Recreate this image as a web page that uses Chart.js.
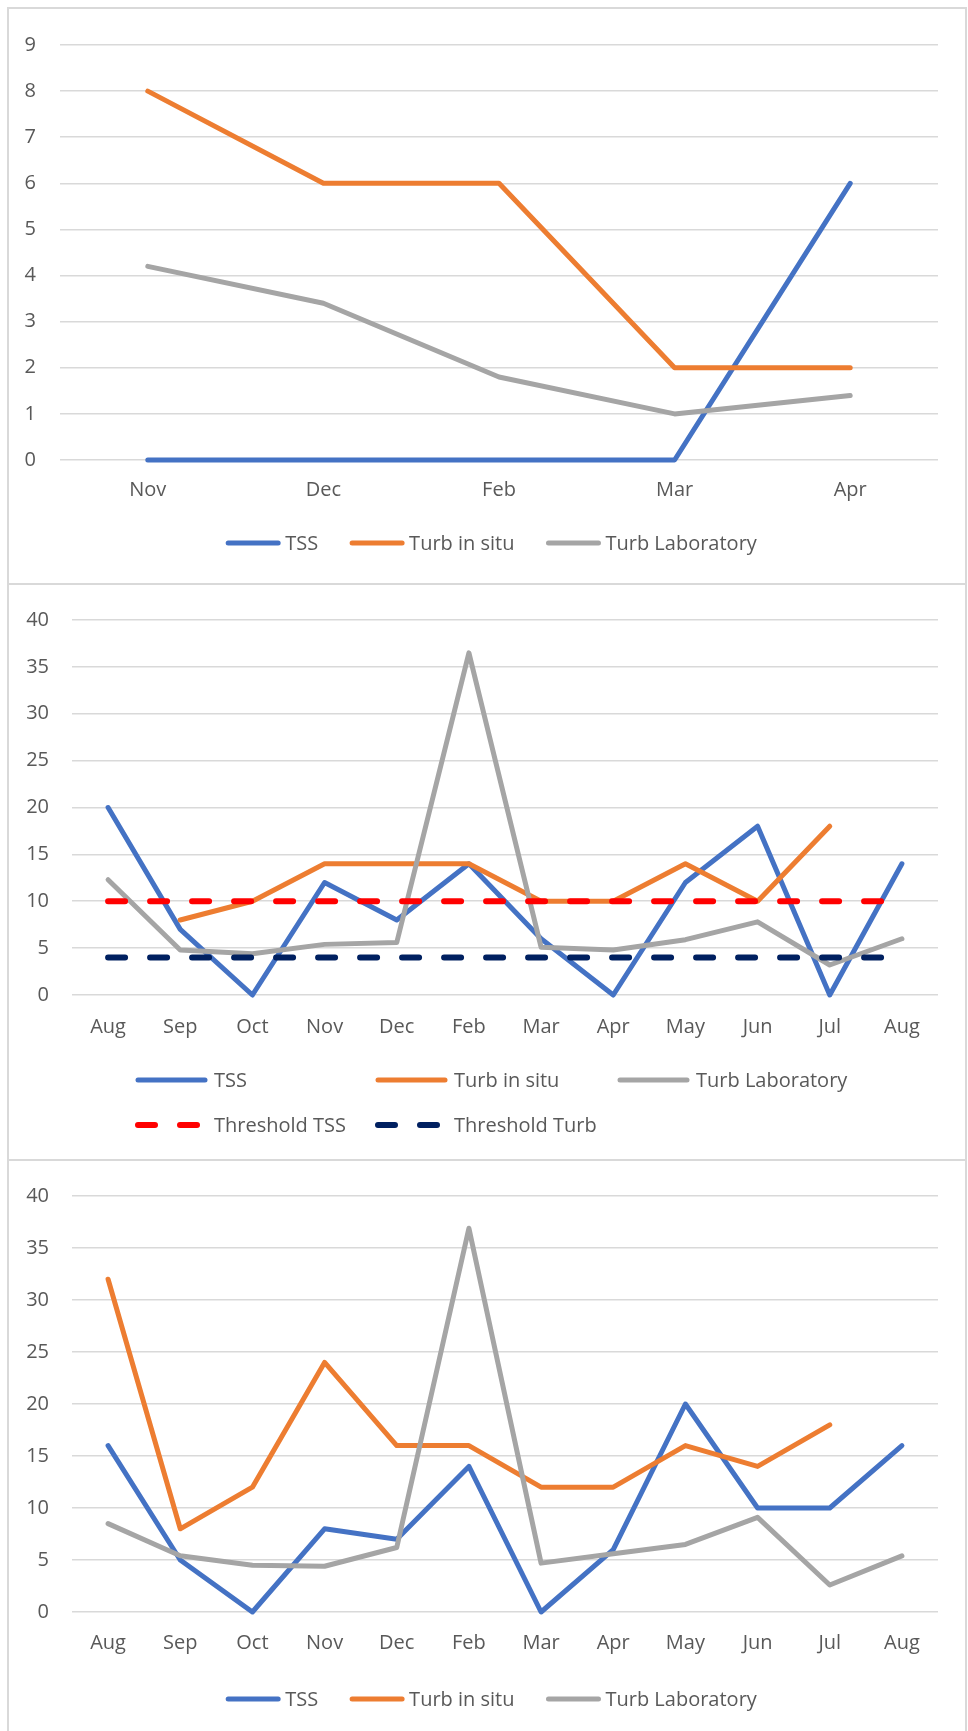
<!DOCTYPE html>
<html>
<head>
<meta charset="utf-8">
<title>TSS and turbidity</title>
<script src="https://cdn.jsdelivr.net/npm/chart.js@4.4.1/dist/chart.umd.min.js"></script>
<style>
  body { margin: 0; background: #fff; width: 968px; height: 1731px; position: relative; overflow: hidden; }
  .panel { position: absolute; left: 7px; width: 960px; border: 2px solid #d9d9d9; box-sizing: border-box; }
  .plot { position: absolute; left: 9px; width: 955px; }
</style>
</head>
<body>
<div class="panel" style="top:7px;height:578px"></div>
<div class="panel" style="top:583px;height:578px"></div>
<div class="panel" style="top:1159px;height:600px"></div>
<div class="plot" style="top:9px;height:573px"><canvas id="chart1"></canvas></div>
<div class="plot" style="top:585px;height:572px"><canvas id="chart2"></canvas></div>
<div class="plot" style="top:1161px;height:570px"><canvas id="chart3"></canvas></div>
<script>
// Top chart
var months1 = ['Nov', 'Dec', 'Feb', 'Mar', 'Apr'];
var tss1 = [0, 0, 0, 0, 6];
var turbSitu1 = [8, 6, 6, 2, 2];
var turbLab1 = [4.2, 3.4, 1.8, 1.0, 1.4];
var yTicks1 = [0, 1, 2, 3, 4, 5, 6, 7, 8, 9];

// Middle chart (with thresholds)
var months2 = ['Aug', 'Sep', 'Oct', 'Nov', 'Dec', 'Feb', 'Mar', 'Apr', 'May', 'Jun', 'Jul', 'Aug'];
var tss2 = [20, 7, 0, 12, 8, 14, 6, 0, 12, 18, 0, 14];
var turbSitu2 = [null, 8, 10, 14, 14, 14, 10, 10, 14, 10, 18, null];
var turbLab2 = [12.3, 4.8, 4.4, 5.4, 5.6, 36.5, 5.1, 4.8, 5.9, 7.8, 3.2, 6.0];
var thresholdTss2 = [10, 10, 10, 10, 10, 10, 10, 10, 10, 10, 10, 10];
var thresholdTurb2 = [4, 4, 4, 4, 4, 4, 4, 4, 4, 4, 4, 4];
var yTicks2 = [0, 5, 10, 15, 20, 25, 30, 35, 40];

// Bottom chart
var months3 = ['Aug', 'Sep', 'Oct', 'Nov', 'Dec', 'Feb', 'Mar', 'Apr', 'May', 'Jun', 'Jul', 'Aug'];
var tss3 = [16, 5, 0, 8, 7, 14, 0, 6, 20, 10, 10, 16];
var turbSitu3 = [32, 8, 12, 24, 16, 16, 12, 12, 16, 14, 18, null];
var turbLab3 = [8.5, 5.4, 4.5, 4.4, 6.2, 36.9, 4.7, 5.6, 6.5, 9.1, 2.6, 5.4];
var yTicks3 = [0, 5, 10, 15, 20, 25, 30, 35, 40];

var BLUE = '#4472C4', ORANGE = '#ED7D31', GREY = '#A5A5A5', RED = '#FF0000', NAVY = '#002060';
var TEXT = '#595959';
var FONT_FAMILY = "'Open Sans', 'DejaVu Sans', sans-serif";

// legend drawn as line samples, either centred in one row or on fixed columns
var lineLegend = {
    id: 'lineLegend',
    afterDraw: function(chart, args, opts) {
        var ctx = chart.ctx;
        var sets = chart.data.datasets;
        ctx.save();
        ctx.font = '20px ' + FONT_FAMILY;
        ctx.textBaseline = 'middle';
        opts.rows.forEach(function(row, r) {
            var y = opts.y[r];
            var xs = [];
            if (opts.columns) {
                xs = opts.columns;
            } else {
                var widths = row.map(function(i) {
                    return opts.lineLength + opts.textGap + ctx.measureText(sets[i].label).width;
                });
                var total = widths.reduce(function(a, b) { return a + b; }, 0) + opts.itemGap * (row.length - 1);
                var x = opts.centerX - total / 2;
                widths.forEach(function(w) { xs.push(x); x += w + opts.itemGap; });
            }
            row.forEach(function(i, k) {
                var ds = sets[i];
                var x = xs[k];
                ctx.beginPath();
                ctx.strokeStyle = ds.borderColor;
                ctx.lineWidth = ds.borderWidth;
                ctx.lineCap = 'round';
                ctx.setLineDash(ds.borderDash || []);
                ctx.moveTo(x + 3, y);
                ctx.lineTo(x + opts.lineLength - 3, y);
                ctx.stroke();
                ctx.setLineDash([]);
                ctx.fillStyle = TEXT;
                ctx.fillText(ds.label, x + opts.lineLength + opts.textGap, y + 1);
            });
        });
        ctx.restore();
    }
};

function series(label, data, color, order, dash) {
    return {
        label: label,
        data: data,
        borderColor: color,
        backgroundColor: color,
        borderWidth: dash ? 6 : 5,
        borderDash: dash || [],
        borderCapStyle: 'round',
        borderJoinStyle: 'round',
        pointRadius: 0,
        pointHoverRadius: 0,
        tension: 0,
        spanGaps: false,
        clip: false,
        order: order
    };
}

function makeChart(id, labels, datasets, yTicks, box, legend) {
    return new Chart(document.getElementById(id), {
        type: 'line',
        data: { labels: labels, datasets: datasets },
        options: {
            responsive: true,
            maintainAspectRatio: false,
            animation: false,
            events: [],
            layout: { padding: { left: 0, right: box.right, top: box.top, bottom: box.bottom } },
            scales: {
                x: {
                    offset: true,
                    grid: { display: false, drawTicks: false },
                    border: { display: false },
                    ticks: { color: TEXT, padding: box.xPad, font: { family: FONT_FAMILY, size: 20 }, maxRotation: 0, autoSkip: false },
                    afterFit: function(s) { s.height = box.xHeight; }
                },
                y: {
                    min: yTicks[0],
                    max: yTicks[yTicks.length - 1],
                    grid: { color: '#d9d9d9', lineWidth: 1.6, drawTicks: false },
                    border: { display: false },
                    ticks: { stepSize: yTicks[1] - yTicks[0], color: TEXT, padding: box.yPad, font: { family: FONT_FAMILY, size: 20 } },
                    afterFit: function(s) { s.width = box.left; }
                }
            },
            plugins: {
                legend: { display: false },
                tooltip: { enabled: false },
                lineLegend: legend
            }
        },
        plugins: [lineLegend]
    });
}

makeChart('chart1', months1, [
    series('TSS', tss1, BLUE, 3),
    series('Turb in situ', turbSitu1, ORANGE, 2),
    series('Turb Laboratory', turbLab1, GREY, 1)
], yTicks1,
{ left: 51, right: 26, top: 27.5, bottom: 72, xHeight: 50, xPad: 18, yPad: 24 },
{ rows: [[0, 1, 2]], y: [534], centerX: 482, lineLength: 56, textGap: 4, itemGap: 31 });

makeChart('chart2', months2, [
    series('TSS', tss2, BLUE, 5),
    series('Turb in situ', turbSitu2, ORANGE, 4),
    series('Turb Laboratory', turbLab2, GREY, 3),
    series('Threshold TSS', thresholdTss2, RED, 2, [17, 25]),
    series('Threshold Turb', thresholdTurb2, NAVY, 1, [17, 25])
], yTicks2,
{ left: 63, right: 26, top: 27, bottom: 112, xHeight: 50, xPad: 20, yPad: 23 },
{ rows: [[0, 1, 2], [3, 4]], y: [495, 540], columns: [126, 366, 608], lineLength: 73, textGap: 6 });

makeChart('chart3', months3, [
    series('TSS', tss3, BLUE, 3),
    series('Turb in situ', turbSitu3, ORANGE, 2),
    series('Turb Laboratory', turbLab3, GREY, 1)
], yTicks3,
{ left: 63, right: 26, top: 27.5, bottom: 69, xHeight: 50, xPad: 19, yPad: 23 },
{ rows: [[0, 1, 2]], y: [538], centerX: 482, lineLength: 56, textGap: 4, itemGap: 31 });
</script>
</body>
</html>
